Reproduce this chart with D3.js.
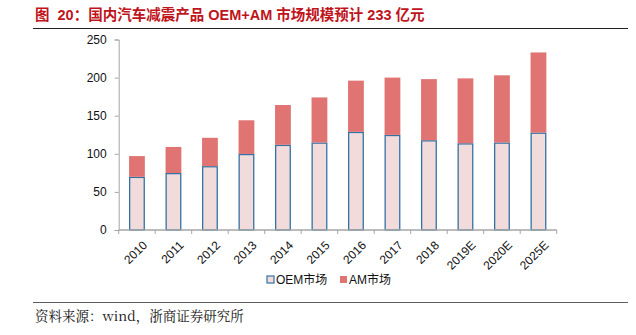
<!DOCTYPE html>
<html>
<head>
<meta charset="utf-8">
<script src="https://cdn.jsdelivr.net/npm/d3@7"></script>
<style>
  body { margin: 0; background: #fff; }
  svg { display: block; }
</style>
</head>
<body>
<div id="chart"></div>
<script>
// Market size, 亿元
const years = ['2010', '2011', '2012', '2013', '2014', '2015', '2016', '2017', '2018', '2019E', '2020E', '2025E'];
const oemValues = [69, 74, 83, 99, 111, 114, 128, 124, 117, 113, 114, 127];
const totalValues = [97, 109, 121, 144, 164, 174, 196, 200, 198, 199, 203, 233];
const yTicks = [0, 50, 100, 150, 200, 250];

const width = 636, height = 335;
const margin = { top: 39.5, right: 79.3, bottom: 105, left: 118.7 };
const chartWidth = width - margin.left - margin.right;
const chartHeight = height - margin.top - margin.bottom;

const svg = d3.select("#chart")
    .append("svg")
    .attr("width", width)
    .attr("height", height);

// Title and rules
svg.append("text")
    .attr("x", 35)
    .attr("y", 20)
    .attr("fill", "#c0141c")
    .style("font-family", "'Liberation Sans', 'Noto Sans CJK SC', sans-serif")
    .style("font-size", "14.5px")
    .style("font-weight", "bold")
    .style("white-space", "pre")
    .text("图  20：国内汽车减震产品 OEM+AM 市场规模预计 233 亿元");

svg.append("line")
    .attr("x1", 33).attr("x2", 628)
    .attr("y1", 28.5).attr("y2", 28.5)
    .attr("stroke", "#222").attr("stroke-width", 1);

svg.append("line")
    .attr("x1", 33).attr("x2", 628)
    .attr("y1", 302.5).attr("y2", 302.5)
    .attr("stroke", "#333").attr("stroke-width", 0.8);

svg.append("text")
    .attr("x", 35)
    .attr("y", 321)
    .attr("fill", "#111")
    .style("font-family", "'Noto Serif CJK SC', 'Liberation Serif', 'Noto Sans CJK SC', serif")
    .style("font-size", "13.5px")
    .text("资料来源：wind，浙商证券研究所");

const g = svg.append("g")
    .attr("transform", `translate(${margin.left},${margin.top})`);

const xScale = d3.scaleBand()
    .domain(years)
    .range([0, chartWidth]);

const yScale = d3.scaleLinear()
    .domain([0, 250])
    .range([chartHeight, 0]);

const barWidth = xScale.bandwidth() * 0.4;

// OEM bars (bottom)
g.selectAll(".oem")
    .data(years)
    .enter().append("rect")
    .attr("class", "oem")
    .attr("x", d => xScale(d) + (xScale.bandwidth() - barWidth) / 2)
    .attr("width", barWidth)
    .attr("y", (d, i) => yScale(oemValues[i]))
    .attr("height", (d, i) => chartHeight - yScale(oemValues[i]))
    .attr("fill", "#f2dcdb")
    .attr("stroke", "#3272a6")
    .attr("stroke-width", 1.3);

// AM bars (stacked on top)
g.selectAll(".am")
    .data(years)
    .enter().append("rect")
    .attr("class", "am")
    .attr("x", d => xScale(d) + (xScale.bandwidth() - barWidth) / 2 - 0.6)
    .attr("width", barWidth + 1.2)
    .attr("y", (d, i) => yScale(totalValues[i]))
    .attr("height", (d, i) => yScale(oemValues[i]) - yScale(totalValues[i]) - 0.6)
    .attr("fill", "#e07473");

// Y axis
const yAxis = g.append("g")
    .call(d3.axisLeft(yScale).tickValues(yTicks).tickSize(4).tickPadding(8));
yAxis.select(".domain").attr("stroke", "#a6a6a6");
yAxis.selectAll("line").attr("stroke", "#a6a6a6");
yAxis.selectAll("text")
    .attr("fill", "#111")
    .style("font-family", "'Liberation Sans', Arial, sans-serif")
    .style("font-size", "12px");

// X axis, tick marks on band edges
const xAxis = g.append("g")
    .attr("transform", `translate(0,${chartHeight})`);
xAxis.append("line")
    .attr("x1", 0).attr("x2", chartWidth)
    .attr("stroke", "#a6a6a6").attr("stroke-width", 1.5);
xAxis.selectAll(".xtick")
    .data(years.concat(["end"]))
    .enter().append("line")
    .attr("x1", (d, i) => i * xScale.bandwidth())
    .attr("x2", (d, i) => i * xScale.bandwidth())
    .attr("y1", 0).attr("y2", 4)
    .attr("stroke", "#a6a6a6");
xAxis.selectAll(".xlabel")
    .data(years)
    .enter().append("text")
    .attr("transform", d => `translate(${xScale(d) + xScale.bandwidth() / 2 + 5},${10}) rotate(-45)`)
    .attr("text-anchor", "end")
    .attr("dy", "0.7em")
    .attr("fill", "#111")
    .style("font-family", "'Liberation Sans', Arial, sans-serif")
    .style("font-size", "12px")
    .text(d => d);

// Legend
const legend = svg.append("g")
    .attr("transform", "translate(267,276)");
const legendItems = [
    { label: "OEM市场", fill: "#f2dcdb", stroke: "#3272a6", x: 0 },
    { label: "AM市场", fill: "#e07473", stroke: "none", x: 73 }
];
legendItems.forEach(item => {
    legend.append("rect")
        .attr("x", item.x).attr("y", 0)
        .attr("width", 7).attr("height", 7)
        .attr("fill", item.fill)
        .attr("stroke", item.stroke)
        .attr("stroke-width", 1.2);
    legend.append("text")
        .attr("x", item.x + 9)
        .attr("y", 8)
        .attr("fill", "#111")
        .style("font-family", "'Liberation Sans', 'Noto Sans CJK SC', sans-serif")
        .style("font-size", "12px")
        .text(item.label);
});
</script>
</body>
</html>
